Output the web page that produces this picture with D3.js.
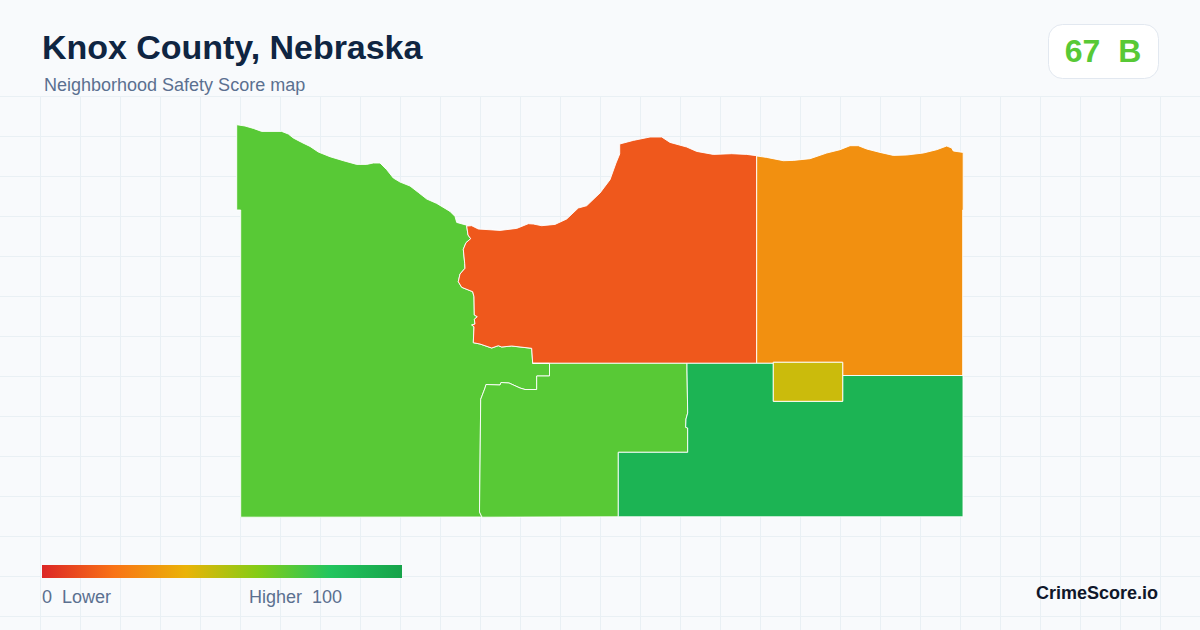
<!DOCTYPE html>
<html>
<head>
<meta charset="utf-8">
<title>Knox County, Nebraska</title>
<script src="https://cdn.jsdelivr.net/npm/d3@7"></script>
<style>
    html, body { margin: 0; padding: 0; background: #f8fafc; }
    svg { display: block; }
    text { font-family: "Liberation Sans", Arial, sans-serif; white-space: pre; }
</style>
</head>
<body>
<div id="chart"></div>
<script>
// Knox County safety score map
const width = 1200;
const height = 630;

const titleText = "Knox County, Nebraska";
const subtitleText = "Neighborhood Safety Score map";
const countyScore = 67;
const countyGrade = "B";
const brandText = "CrimeScore.io";

// Color scale stops, also used by the legend
const scoreStops = [0, 20, 40, 60, 80, 100];
const scoreColors = ["#dc2626", "#f97316", "#eab308", "#84cc16", "#22c55e", "#16a34a"];

// Tract scores
const tractNames = ["west", "north", "northeast", "south", "southeast", "town"];
const tractScores = [69, 13, 29, 69, 90, 46];

// Boundary pieces in map units
const westShore = [[36.7,24.7],[45,26],[53.3,28.4],[61.7,31.4],[81.7,31.4],[88.3,34],[93.3,38],[101.7,42.4],[110,46.4],[118.3,52],[130,56.7],[143.3,60.7],[156.7,64.4],[166.7,64.4],[173.3,63],[180,63],[186.7,69.7],[193.3,78],[200,82],[210,86],[218.3,92.4],[226.7,99],[236.7,103.4],[250,111.4],[255,116.4],[256.7,122.4],[266.7,125.2]];
const westRiver = [[268,135],[270.7,138.7],[266,142.7],[263.3,149.3],[264.7,163.3],[265,168.3],[260,174],[258.3,181.7],[261.7,187.3],[272.7,191.7],[274,196.7],[274.3,215],[277.3,216.7],[274.3,219.3],[275,224],[271.7,225],[274,226.7],[273.3,242.7],[280,244],[291.7,248],[298.3,245.7],[301.7,247],[311.7,246],[331.7,248.3],[332.7,263.3]];
const westSouthLine = [[349.5,263.3],[349.5,276],[336.7,276],[336.7,289.5],[325,289.5],[320,288],[309,283],[301,282.5],[300,285],[286,284.5],[285,288],[280.7,299.3],[280,369],[279.5,412],[282,417]];
const northShore = [[271.7,125.7],[278.3,129],[300,130.4],[316.7,128.4],[328.3,123.7],[333.3,124],[341.7,125.7],[355,124.4],[366.7,119],[378.3,108],[386.7,105.7],[400,93],[410,79.7],[416,63],[419.7,54],[419.7,44],[433.3,40.4],[450,37],[461.7,37],[470,42.4],[486.7,47],[496.7,51.4],[513.3,54.4],[531.7,53.7],[546.7,54.4],[556.7,55.7]];
const eastShore = [[566.7,57.4],[583.3,60.7],[593.3,60.4],[610,58.7],[626.7,53],[640,49.7],[650,45.7],[658.3,45.7],[666.7,49],[680,52.4],[693.3,55.4],[706.7,55],[723.3,53],[736.7,49.7],[746.7,46],[751.7,48],[753.3,51],[763.2,52.4],[763.2,110],[762.7,110],[762.7,275.5]];
const southEastLine = [[487,270],[487.7,313],[486,319],[485.7,327.3],[487.7,328],[487.7,352.3]];

// Tract outlines assembled from the pieces above
const tractRings = [
    [...westShore, [266.7,126], ...westRiver, ...westSouthLine, [40.7,417.2], [40.7,110], [36.7,110]],
    [[266.7,126], ...northShore, [556.7,263.3], [332.7,263.3], ...westRiver.slice().reverse()],
    [[556.7,56], ...eastShore, [642.7,275.5], [642.7,262.3], [573.3,262.3], [573.3,263.3], [556.7,263.3]],
    [[332.7,263.3], [487,263.3], ...southEastLine, [418.3,352.3], [418.3,416.8], [282,417.2], ...westSouthLine.slice().reverse().slice(1)],
    [[487,263.3], [573.3,263.3], [573.3,301.3], [642.7,301.3], [642.7,275.5], [763,275.5], [763,416.8], [418.3,416.8], [418.3,352.3], ...southEastLine.slice().reverse()],
    [[573.3,262.3], [642.7,262.3], [642.7,301.3], [573.3,301.3]]
];

const svg = d3.select("#chart")
    .append("svg")
    .attr("width", width)
    .attr("height", height);

svg.append("rect")
    .attr("width", width)
    .attr("height", height)
    .attr("fill", "#f8fafc");

// Background grid
const gridTop = 96;
const gridStep = 40;
const gridG = svg.append("g")
    .attr("stroke", "#e9f0f4")
    .attr("stroke-width", 1);

gridG.selectAll(".v")
    .data(d3.range(gridStep, width, gridStep))
    .join("line")
    .attr("x1", d => d + 0.5)
    .attr("x2", d => d + 0.5)
    .attr("y1", gridTop)
    .attr("y2", height);

gridG.selectAll(".h")
    .data(d3.range(gridTop, height, gridStep))
    .join("line")
    .attr("x1", 0)
    .attr("x2", width)
    .attr("y1", d => d + 0.5)
    .attr("y2", d => d + 0.5);

// Map
const x = d3.scaleLinear().domain([37, 763]).range([237, 963]);
const y = d3.scaleLinear().domain([25, 417]).range([125, 517]);
const color = d3.scaleLinear().domain(scoreStops).range(scoreColors);

const line = d3.line()
    .x(d => x(d[0]))
    .y(d => y(d[1]))
    .curve(d3.curveLinearClosed);

svg.append("g")
    .selectAll("path")
    .data(tractRings)
    .join("path")
    .attr("class", (d, i) => tractNames[i])
    .attr("d", line)
    .attr("fill", (d, i) => color(tractScores[i]))
    .attr("stroke", "#ffffff")
    .attr("stroke-width", 0.9)
    .attr("stroke-linejoin", "round");

// Header
svg.append("text")
    .attr("x", 42)
    .attr("y", 59)
    .attr("font-size", 34)
    .attr("font-weight", 700)
    .attr("letter-spacing", -0.03)
    .attr("fill", "#0f2542")
    .text(titleText);

svg.append("text")
    .attr("x", 44)
    .attr("y", 91)
    .attr("font-size", 18)
    .attr("fill", "#5b7090")
    .text(subtitleText);

// Score badge
svg.append("rect")
    .attr("x", 1048.5)
    .attr("y", 24.5)
    .attr("width", 110)
    .attr("height", 54)
    .attr("rx", 14)
    .attr("fill", "#ffffff")
    .attr("stroke", "#e2e8f0");

svg.append("text")
    .attr("x", 1103)
    .attr("y", 62)
    .attr("text-anchor", "middle")
    .attr("font-size", 32)
    .attr("font-weight", 700)
    .attr("fill", color(tractScores[0]))
    .text(countyScore + "  " + countyGrade);

// Legend
const legendX = d3.scaleLinear().domain([0, 100]).range([42, 402]);

const gradient = svg.append("defs")
    .append("linearGradient")
    .attr("id", "score-gradient");

gradient.selectAll("stop")
    .data(scoreStops)
    .join("stop")
    .attr("offset", d => d + "%")
    .attr("stop-color", (d, i) => scoreColors[i]);

svg.append("rect")
    .attr("x", legendX(0))
    .attr("y", 565)
    .attr("width", legendX(100) - legendX(0))
    .attr("height", 13)
    .attr("fill", "url(#score-gradient)");

svg.append("text")
    .attr("x", 42)
    .attr("y", 603)
    .attr("font-size", 18)
    .attr("fill", "#5b7090")
    .text("0  Lower");

svg.append("text")
    .attr("x", 249)
    .attr("y", 603)
    .attr("font-size", 18)
    .attr("fill", "#5b7090")
    .text("Higher  100");

svg.append("text")
    .attr("x", 1158)
    .attr("y", 599)
    .attr("text-anchor", "end")
    .attr("font-size", 18)
    .attr("font-weight", 700)
    .attr("fill", "#0f172a")
    .text(brandText);
</script>
</body>
</html>
